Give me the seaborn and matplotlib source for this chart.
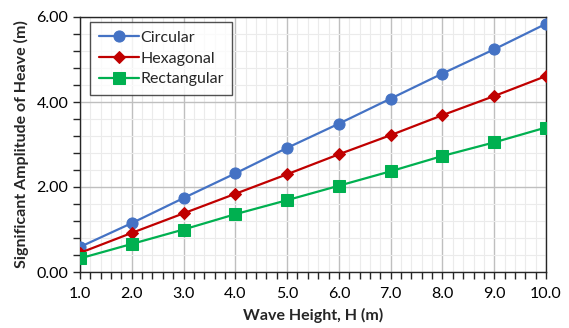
import numpy as np
import pandas as pd
import matplotlib
matplotlib.use("Agg")
import matplotlib.pyplot as plt
from matplotlib.ticker import MultipleLocator, FormatStrFormatter
import seaborn as sns

wave_height = [1.0, 2.0, 3.0, 4.0, 5.0, 6.0, 7.0, 8.0, 9.0, 10.0]
circular = [0.59, 1.15, 1.74, 2.32, 2.92, 3.49, 4.08, 4.67, 5.24, 5.84]
hexagonal = [0.45, 0.92, 1.38, 1.84, 2.30, 2.77, 3.22, 3.69, 4.14, 4.61]
rectangular = [0.32, 0.66, 1.00, 1.36, 1.69, 2.03, 2.37, 2.73, 3.05, 3.40]
series_names = ["Circular", "Hexagonal", "Rectangular"]
colors = ["#4472C4", "#C00000", "#00B050"]
markers = ["o", "D", "s"]
sizes = [8, 6, 8]

df = pd.DataFrame({
    "H": wave_height * 3,
    "amp": circular + hexagonal + rectangular,
    "shape": [s for s in series_names for _ in wave_height],
})

sns.set_style("white")
plt.rcParams["font.family"] = ["Lato", "DejaVu Sans"]

fig = plt.figure(figsize=(5.69, 3.28), dpi=100)
ax = fig.add_axes([80/569, 1-272/328, (546-80)/569, (272-17)/328])

for name, c, m, s in zip(series_names, colors, markers, sizes):
    sub = df[df["shape"] == name]
    sns.lineplot(data=sub, x="H", y="amp", ax=ax, color=c, marker=m,
                 markersize=s, markeredgecolor=c, linewidth=1.6, label=name,
                 zorder=3)

ax.set_xlim(1, 10)
ax.set_ylim(0, 6)
ax.xaxis.set_major_locator(MultipleLocator(1))
ax.xaxis.set_minor_locator(MultipleLocator(0.2))
ax.yaxis.set_major_locator(MultipleLocator(2))
ax.yaxis.set_minor_locator(MultipleLocator(0.4))
ax.xaxis.set_major_formatter(FormatStrFormatter("%.1f"))
ax.yaxis.set_major_formatter(FormatStrFormatter("%.2f"))
ax.grid(which="major", color="#BFBFBF", linewidth=1.0, zorder=0)
ax.grid(which="minor", color="#EBEBEB", linewidth=0.8, zorder=0)
ax.set_axisbelow(True)
for sp in ax.spines.values():
    sp.set_color("#262626")
    sp.set_linewidth(1.0)
ax.tick_params(which="both", direction="out", length=5, width=1, color="#262626",
               labelsize=11.5, labelcolor="#000000",
               bottom=True, left=True)
ax.tick_params(axis="x", pad=6)
ax.set_xlabel("Wave Height, H (m)", fontsize=11.5, fontweight="bold", labelpad=5)
ax.set_ylabel("Significant Amplitude of Heave (m)", fontsize=11.5, fontweight="bold", labelpad=5)

leg = ax.legend(loc="upper left", bbox_to_anchor=(0.021, 0.98), borderaxespad=0,
                fontsize=11.5, frameon=True, fancybox=False, edgecolor="#262626",
                handlelength=2.5, borderpad=0.55, labelspacing=0.4,
                handletextpad=0.1)
leg.get_frame().set_linewidth(1.0)

fig.savefig("out.png", dpi=100)
